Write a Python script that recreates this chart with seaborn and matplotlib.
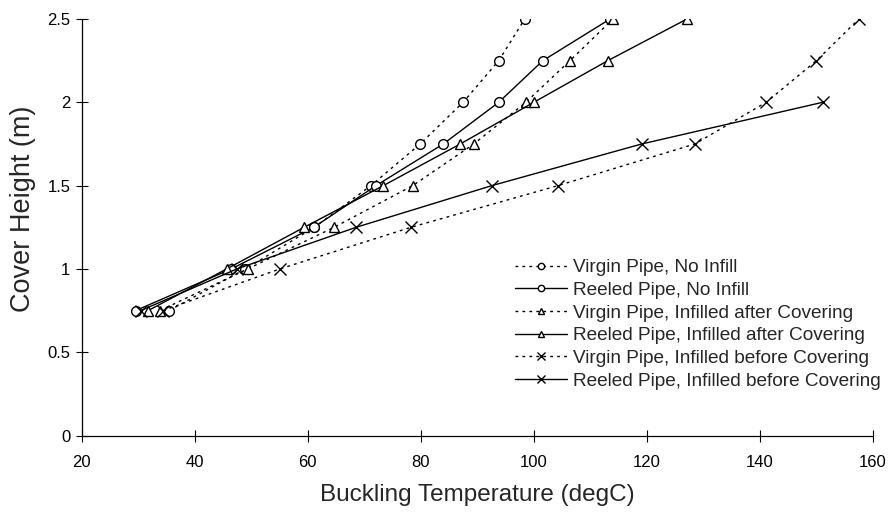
import matplotlib
matplotlib.use("Agg")
import matplotlib.pyplot as plt
import seaborn as sns
import pandas as pd

sns.set_theme(style="white")
plt.rcParams['font.family'] = ['Liberation Sans', 'DejaVu Sans']

cover_height = [0.75, 1.0, 1.25, 1.5, 1.75, 2.0, 2.25, 2.5]

virgin_no_infill = [35.5, 49.0, 61.2, 71.2, 79.9, 87.5, 93.8, 98.4]
reeled_no_infill = [29.6, 46.5, 61.1, 72.1, 84.0, 93.8, 101.6, 113.5]
virgin_after = [33.9, 49.4, 64.7, 78.6, 89.4, 98.6, 106.4, 114.0]
reeled_after = [31.8, 45.7, 59.4, 73.4, 87.0, 100.0, 113.1, 127.1]
virgin_before = [34.4, 55.1, 78.3, 104.3, 128.5, 141.1, 150.0, 157.5]
reeled_before = [30.5, 47.5, 68.6, 92.6, 119.1, 151.1]

series_names = [
    "Virgin Pipe, No Infill",
    "Reeled Pipe, No Infill",
    "Virgin Pipe, Infilled after Covering",
    "Reeled Pipe, Infilled after Covering",
    "Virgin Pipe, Infilled before Covering",
    "Reeled Pipe, Infilled before Covering",
]
series_values = [virgin_no_infill, reeled_no_infill, virgin_after,
                 reeled_after, virgin_before, reeled_before]
markers = ["o", "o", "^", "^", "x", "x"]
dotted = [True, False, True, False, True, False]

x_ticks = [20, 40, 60, 80, 100, 120, 140, 160]
y_ticks = [0, 0.5, 1, 1.5, 2, 2.5]
y_tick_labels = ["0", "0.5", "1", "1.5", "2", "2.5"]

W, H = 890, 515
fig = plt.figure(figsize=(W / 100, H / 100), dpi=100)
ax = fig.add_axes([81.5 / W, 1 - 435.5 / H, (873 - 81.5) / W, (435.5 - 19) / H])

for name, vals, mk, dt in zip(series_names, series_values, markers, dotted):
    df = pd.DataFrame({"temp": vals, "height": cover_height[:len(vals)]})
    ls = (0, (2, 3)) if dt else "-"
    mfc = "white" if mk != "x" else "black"
    sns.lineplot(data=df, x="temp", y="height", ax=ax, sort=False,
                 color="black", linewidth=1.0, linestyle=ls,
                 marker=mk, markersize=7 if mk != "x" else 8,
                 markerfacecolor=mfc, markeredgecolor="black",
                 markeredgewidth=1.0, label=name, legend=False)

ax.set_xlim(20, 160)
ax.set_ylim(0, 2.5)
ax.set_xticks(x_ticks)
ax.set_yticks(y_ticks)
ax.set_yticklabels(y_tick_labels)
ax.tick_params(axis="both", direction="inout", length=8, width=0.8,
               colors="black", labelsize=12, left=True, bottom=True)
ax.tick_params(axis="x", pad=10)
ax.tick_params(axis="y", pad=4)
for s in ["top", "right"]:
    ax.spines[s].set_visible(False)
for s in ["left", "bottom"]:
    ax.spines[s].set_color("black")
    ax.spines[s].set_linewidth(0.9)

ax.set_xlabel("Buckling Temperature (degC)", fontsize=17.5, labelpad=10)
ax.set_ylabel("Cover Height (m)", fontsize=19.5)
ax.yaxis.set_label_coords(-0.058, 0.545)

leg = ax.legend(loc="upper left", bbox_to_anchor=(515 / W, 1 - 259 / H),
                bbox_transform=fig.transFigure, borderpad=0, borderaxespad=0,
                frameon=False, fontsize=13.7, handlelength=2.75,
                handletextpad=0.3, labelspacing=0.28, markerscale=0.65)

fig.savefig("out.png", dpi=100)
